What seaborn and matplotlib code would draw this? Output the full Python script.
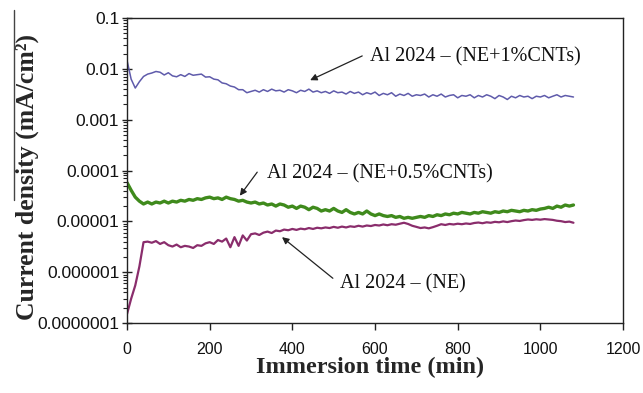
import numpy as np
import pandas as pd
import seaborn as sns
import matplotlib.pyplot as plt
from matplotlib.lines import Line2D
from matplotlib.ticker import FixedLocator, LogLocator, NullFormatter

# immersion time (min), one reading every 10 min
time_min = list(range(0, 1090, 10))

# current density (mA/cm2)
cnt1 = [x * 1e-3 for x in [
    14.8, 6.3, 4.2, 5.6, 7.1, 7.9, 8.3, 8.9, 8.6, 7.6,
    8.4, 7.3, 7.0, 7.7, 7.1, 8.1, 7.5, 7.7, 7.9, 6.9,
    7.0, 6.3, 6.1, 5.3, 5.1, 4.6, 4.4, 3.9, 3.9, 3.4,
    3.6, 3.8, 3.5, 3.9, 3.6, 4.0, 3.7, 3.8, 3.5, 3.9,
    3.7, 3.4, 3.8, 3.6, 4.0, 3.5, 3.7, 3.4, 3.6, 3.3,
    3.7, 3.4, 3.5, 3.2, 3.6, 3.3, 3.5, 3.1, 3.4, 3.2,
    3.5, 3.0, 3.3, 3.1, 3.4, 2.9, 3.2, 3.0, 3.3, 2.9,
    3.1, 3.0, 3.2, 2.8, 3.1, 2.9, 3.2, 2.8, 3.0, 3.1,
    2.7, 3.0, 2.9, 3.1, 2.7, 3.0, 2.8, 3.1, 2.9, 2.6,
    3.0, 2.8, 2.5, 2.9, 2.7, 3.0, 2.8, 2.9, 2.6, 2.9,
    2.8, 3.0, 2.7, 2.9, 3.1, 2.8, 3.0, 2.9, 2.8]]

cnt05 = [x * 1e-5 for x in [
    5.8, 4.1, 3.0, 2.5, 2.2, 2.4, 2.2, 2.4, 2.3, 2.5,
    2.3, 2.5, 2.4, 2.6, 2.5, 2.7, 2.6, 2.8, 2.7, 2.9,
    3.0, 2.8, 2.9, 2.7, 3.0, 2.8, 2.7, 2.5, 2.6, 2.4,
    2.3, 2.4, 2.2, 2.3, 2.1, 2.2, 2.0, 2.2, 2.1, 1.9,
    2.0, 1.8, 2.0, 1.9, 1.7, 1.9, 1.8, 1.6, 1.7, 1.6,
    1.8, 1.6, 1.5, 1.7, 1.5, 1.4, 1.5, 1.4, 1.6, 1.4,
    1.3, 1.4, 1.3, 1.25, 1.3, 1.2, 1.25, 1.15, 1.2, 1.15,
    1.2, 1.25, 1.2, 1.3, 1.25, 1.35, 1.3, 1.4, 1.35, 1.45,
    1.4, 1.5, 1.45, 1.4, 1.5, 1.45, 1.55, 1.5, 1.45, 1.55,
    1.5, 1.6, 1.55, 1.65, 1.6, 1.55, 1.65, 1.6, 1.7, 1.65,
    1.75, 1.8, 1.9, 1.8, 2.0, 1.9, 2.1, 2.0, 2.1]]

ne = [x * 1e-6 for x in [
    0.15, 0.3, 0.55, 1.3, 3.9, 4.0, 3.8, 4.1, 3.6, 3.9,
    3.4, 3.2, 3.5, 3.1, 3.3, 3.2, 3.0, 3.4, 3.3, 3.7,
    3.9, 3.6, 4.3, 4.0, 4.6, 3.1, 4.9, 3.3, 5.3, 4.2,
    5.6, 5.8, 5.4, 6.0, 6.3, 5.9, 6.6, 6.4, 6.9, 6.7,
    7.1, 6.8, 7.2, 7.0, 7.4, 7.1, 7.5, 7.3, 7.6, 7.4,
    7.8, 7.5, 7.9, 7.6, 8.0, 7.8, 8.2, 7.9, 8.3, 8.1,
    8.5, 8.3, 8.7, 8.4, 8.8, 8.6, 9.0, 9.4, 8.9, 8.2,
    7.8, 7.4, 7.6, 7.3, 7.7, 8.2, 8.8, 8.5, 8.9, 8.7,
    9.0, 8.8, 9.1, 8.9, 9.3, 9.5, 9.2, 9.6, 9.4, 9.8,
    9.6, 10.0, 9.7, 10.1, 10.4, 10.2, 10.6, 10.9, 10.7, 11.0,
    10.8, 11.1, 10.9, 10.7, 10.3, 10.1, 9.7, 9.9, 9.4]]

ytick_vals = [1e-7, 1e-6, 1e-5, 1e-4, 1e-3, 1e-2, 1e-1]
ytick_labels = ['0.0000001', '0.000001', '0.00001', '0.0001', '0.001', '0.01', '0.1']
xtick_vals = [0, 200, 400, 600, 800, 1000, 1200]

sns.set_style('white')

fig = plt.figure(figsize=(6.43, 3.93), dpi=100)
ax = fig.add_axes([0.1975, 0.178, 0.7715, 0.776])

sns.lineplot(x=time_min, y=cnt1, ax=ax, color='#5f5bab', linewidth=1.1)
sns.lineplot(x=time_min, y=cnt05, ax=ax, color='#3f8a1c', linewidth=2.4)
sns.lineplot(x=time_min, y=ne, ax=ax, color='#8a2d6c', linewidth=1.6)

ax.set_yscale('log')
ax.set_ylim(1e-7, 1e-1)
ax.set_xlim(0, 1200)

ax.yaxis.set_major_locator(FixedLocator(ytick_vals))
ax.set_yticklabels(ytick_labels)
ax.yaxis.set_minor_locator(LogLocator(base=10, subs=np.arange(2, 10)))
ax.yaxis.set_minor_formatter(NullFormatter())
ax.set_xticks(xtick_vals)
ax.set_xticklabels([str(v) for v in xtick_vals])

for s in ax.spines.values():
    s.set_color('#222222')
    s.set_linewidth(1.0)

ax.tick_params(axis='y', which='major', direction='inout', length=7, width=1,
               labelsize=12.5, pad=2, colors='#222222', left=True)
ax.tick_params(axis='y', which='minor', direction='out', length=3, width=0.8,
               colors='#222222', left=True)
ax.tick_params(axis='x', which='major', direction='out', length=5, width=1,
               labelsize=11.5, pad=9, colors='#222222', bottom=True)
for lab in ax.get_xticklabels() + ax.get_yticklabels():
    lab.set_fontfamily('Liberation Sans')
    lab.set_color('#111111')

ax.set_xlabel('Immersion time (min)', fontfamily='Liberation Serif',
              fontweight='bold', fontsize=17.5)
ax.set_ylabel('Current density (mA/cm²)', fontfamily='Liberation Serif',
              fontweight='bold', fontsize=18.5)
ax.xaxis.set_label_coords(0.49, -0.112)
ax.yaxis.set_label_coords(-0.178, 0.48)

label_kw = dict(fontfamily='Liberation Serif', fontsize=14.5, ha='center',
                va='center', color='#111111')
arrow_kw = dict(arrowstyle='-|>', color='#222222', lw=0.9, mutation_scale=10,
                shrinkA=0, shrinkB=0)

ax.text(842, 0.017, 'Al 2024 – (NE+1%CNTs)', **label_kw)
ax.annotate('', xy=(443, 0.006), xytext=(569, 0.018), arrowprops=arrow_kw)

ax.text(612, 8.7e-5, 'Al 2024 – (NE+0.5%CNTs)', **label_kw)
ax.annotate('', xy=(273, 3.2e-5), xytext=(315, 9.3e-5), arrowprops=arrow_kw)

ax.text(668, 6.0e-7, 'Al 2024 – (NE)', **label_kw)
ax.annotate('', xy=(375, 4.9e-6), xytext=(498, 7.6e-7), arrowprops=arrow_kw)

# thin stray line left of the y label in the original
fig.add_artist(Line2D([0.021, 0.021], [0.49, 0.975], transform=fig.transFigure,
                      color='#444444', lw=1.0))

fig.savefig('out.png', dpi=100)
